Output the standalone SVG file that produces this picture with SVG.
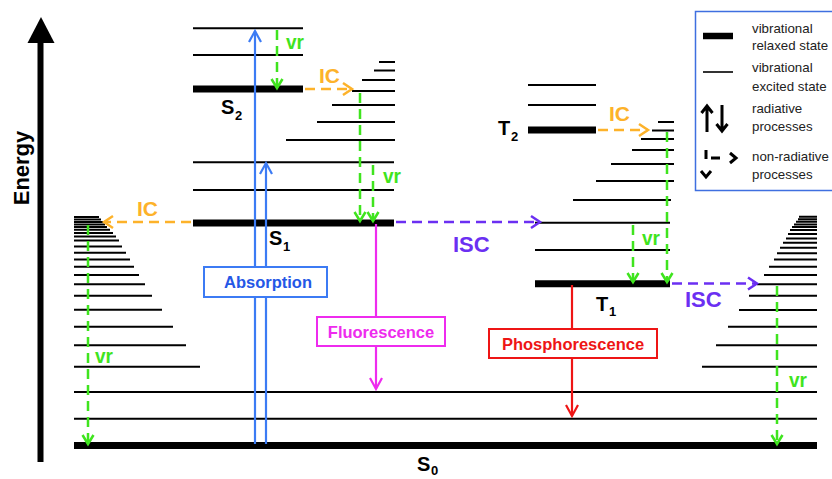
<svg xmlns="http://www.w3.org/2000/svg" width="832" height="479" viewBox="0 0 832 479">
  <style>
    text { font-family: "Liberation Sans", Arial, Helvetica, sans-serif; font-weight: bold; }
    .thin { stroke: #000; stroke-width: 2; fill: none; }
    .thick { stroke: #000; stroke-width: 7; fill: none; }
    .lab { font-size: 20px; fill: #000; }
    .sub { font-size: 13px; fill: #000; }
    .ic { stroke: #FDB22A; stroke-width: 2.5; fill: none; stroke-dasharray: 10 6; }
    .vr { stroke: #3FE41E; stroke-width: 2.5; fill: none; stroke-dasharray: 10 6; }
    .isc { stroke: #6B2FF2; stroke-width: 2.5; fill: none; stroke-dasharray: 10 6; }
    .abs { stroke: #3C7BF4; stroke-width: 2.2; fill: none; }
    .fl { stroke: #EE2BEE; stroke-width: 2.2; fill: none; }
    .ph { stroke: #EE1515; stroke-width: 2.2; fill: none; }
    .t-ic { font-size: 21px; fill: #FDB22A; }
    .t-vr { font-size: 21px; fill: #3FE41E; }
    .t-isc { font-size: 22px; fill: #6B2FF2; }
    .box { fill: #fff; stroke-width: 2; }
    .btxt { font-size: 16.5px; text-anchor: middle; }
    .leg { font-family: "Liberation Sans", Arial, Helvetica, sans-serif; font-weight: normal; font-size: 13.3px; fill: #222; }
  </style>
  <defs>
    <marker id="hIC" markerUnits="userSpaceOnUse" markerWidth="20" markerHeight="20" viewBox="-12 -10 14 20" refX="0" refY="0" orient="auto" overflow="visible">
      <path d="M-9,-6 L0,0 L-9,6" fill="none" stroke="#FDB22A" stroke-width="2.5"/>
    </marker>
    <marker id="hVR" markerUnits="userSpaceOnUse" markerWidth="20" markerHeight="20" viewBox="-12 -10 14 20" refX="0" refY="0" orient="auto" overflow="visible">
      <path d="M-9,-5.5 L0,0 L-9,5.5" fill="none" stroke="#3FE41E" stroke-width="2.5"/>
    </marker>
    <marker id="hISC" markerUnits="userSpaceOnUse" markerWidth="20" markerHeight="20" viewBox="-12 -10 14 20" refX="0" refY="0" orient="auto" overflow="visible">
      <path d="M-9,-6 L0,0 L-9,6" fill="none" stroke="#6B2FF2" stroke-width="2.5"/>
    </marker>
    <marker id="hAbs" markerUnits="userSpaceOnUse" markerWidth="20" markerHeight="20" viewBox="-12 -10 14 20" refX="0" refY="0" orient="auto" overflow="visible">
      <path d="M-11,-6 L0,0 L-11,6" fill="none" stroke="#3C7BF4" stroke-width="2.2"/>
    </marker>
    <marker id="hFl" markerUnits="userSpaceOnUse" markerWidth="20" markerHeight="20" viewBox="-12 -10 14 20" refX="0" refY="0" orient="auto" overflow="visible">
      <path d="M-11,-6 L0,0 L-11,6" fill="none" stroke="#EE2BEE" stroke-width="2.2"/>
    </marker>
    <marker id="hPh" markerUnits="userSpaceOnUse" markerWidth="20" markerHeight="20" viewBox="-12 -10 14 20" refX="0" refY="0" orient="auto" overflow="visible">
      <path d="M-11,-6 L0,0 L-11,6" fill="none" stroke="#EE1515" stroke-width="2.2"/>
    </marker>
  </defs>

  <rect width="832" height="479" fill="#fff"/>

  <!-- energy axis -->
  <g id="energy-axis">
    <line x1="40.5" y1="40" x2="40.5" y2="462" stroke="#000" stroke-width="6"/>
    <polygon points="27.5,43 41,17 54.5,43" fill="#000"/>
    <text transform="translate(29,168) rotate(-90)" text-anchor="middle" font-size="22">Energy</text>
  </g>

  <!-- singlet S2 manifold -->
  <g id="S2">
    <path class="thin" d="M193,28.3H303M193,55H303"/>
    <path class="thick" d="M193,89H303"/>
    <text class="lab" x="221" y="114">S</text><text class="sub" x="235" y="120">2</text>
  </g>

  <!-- vibrational ladder reached from S2 -->
  <g id="S1-upper-ladder">
    <path class="thin" d="M379,62H395M374,70.5H395M362,80H395M352,91H395M332,105H395M317,122H395M286,140H395"/>
  </g>

  <!-- singlet S1 manifold -->
  <g id="S1">
    <path class="thin" d="M193,162.3H394M193,190H394"/>
    <path class="thick" d="M193,223H394"/>
    <text class="lab" x="269" y="245">S</text><text class="sub" x="283" y="251">1</text>
  </g>

  <!-- triplet T2 manifold -->
  <g id="T2">
    <path class="thin" d="M528,85H596M528,105H596"/>
    <path class="thick" d="M528,130H596"/>
    <text class="lab" x="498" y="135">T</text><text class="sub" x="511" y="141">2</text>
  </g>

  <!-- vibrational ladder reached from T2 -->
  <g id="T1-upper-ladder">
    <path class="thin" d="M658,122H674M652,130.5H674M641,139H674M632,150H674M611,164H674M596,181H674M573,200H671"/>
  </g>

  <!-- triplet T1 manifold -->
  <g id="T1">
    <path class="thin" d="M535,222.7H670M535,250H670"/>
    <path class="thick" d="M535,283.7H670"/>
    <text class="lab" x="596" y="311">T</text><text class="sub" x="609" y="316">1</text>
  </g>

  <!-- ground state S0 with both dense vibrational ladders -->
  <g id="S0">
    <path class="thin" d="M74,217H99M74,219.5H101M74,222H103M74,224.5H105M74,227H107M74,229.8H110M74,233H113M74,236.5H116M74,240.6H119M74,246.5H122M74,252.7H126M74,259.6H130M74,266.7H134M74,275H139M74,284.3H145M74,295.7H152M74,309.7H162M74,326.7H173M74,345.3H186M74,366.7H200"/>
    <path class="thin" d="M799,216.8H817M798,219.2H817M796,221.8H817M794,224.4H817M792,227H817M790,230H817M788,234H817M786,238.5H817M783,242.8H817M780,247.7H817M777,253.3H817M774,259.6H817M769,266.7H817M764,275H817M757,284.3H817M749,295.7H817M739,310H817M728,326.7H817M716,345.3H817M702,366.7H817"/>
    <path class="thin" d="M74,392H817M74,418.7H817"/>
    <path class="thick" d="M74,445.5H817"/>
    <text class="lab" x="417" y="471">S</text><text class="sub" x="431" y="475" font-size="12">0</text>
  </g>

  <!-- transitions -->
  <g id="connectors">
    <!-- absorption -->
    <path class="abs" d="M255,444V31" marker-end="url(#hAbs)"/>
    <path class="abs" d="M266,444V163" marker-end="url(#hAbs)"/>
    <!-- fluorescence / phosphorescence -->
    <path class="fl" d="M376,224V389" marker-end="url(#hFl)"/>
    <path class="ph" d="M572,285V416" marker-end="url(#hPh)"/>
    <!-- internal conversion -->
    <path class="ic" d="M305,89H352" marker-end="url(#hIC)"/>
    <path class="ic" d="M191,222H104" marker-end="url(#hIC)"/>
    <path class="ic" d="M598,130H648" marker-end="url(#hIC)"/>
    <!-- intersystem crossing -->
    <path class="isc" d="M396,222H540" marker-end="url(#hISC)"/>
    <path class="isc" d="M672,283.5H757" marker-end="url(#hISC)"/>
    <!-- vibrational relaxation -->
    <path class="vr" d="M277,30V88" marker-end="url(#hVR)"/>
    <path class="vr" d="M360,93V221" marker-end="url(#hVR)"/>
    <path class="vr" d="M373,165V221" marker-end="url(#hVR)"/>
    <path class="vr" d="M667,132V282" marker-end="url(#hVR)"/>
    <path class="vr" d="M633,225V282" marker-end="url(#hVR)"/>
    <path class="vr" d="M88,225V444" marker-end="url(#hVR)"/>
    <path class="vr" d="M777,286V444" marker-end="url(#hVR)"/>
  </g>

  <!-- transition labels -->
  <g id="labels">
    <text class="t-ic" x="319" y="83">IC</text>
    <text class="t-ic" x="137" y="216">IC</text>
    <text class="t-ic" x="609" y="121">IC</text>
    <text class="t-vr" x="286" y="49" textLength="18" lengthAdjust="spacingAndGlyphs">vr</text>
    <text class="t-vr" x="383" y="183" textLength="18" lengthAdjust="spacingAndGlyphs">vr</text>
    <text class="t-vr" x="642" y="245" textLength="18" lengthAdjust="spacingAndGlyphs">vr</text>
    <text class="t-vr" x="95" y="363" textLength="18" lengthAdjust="spacingAndGlyphs">vr</text>
    <text class="t-vr" x="789" y="387" textLength="18" lengthAdjust="spacingAndGlyphs">vr</text>
    <text class="t-isc" x="453" y="252">ISC</text>
    <text class="t-isc" x="685" y="307">ISC</text>
  </g>

  <g id="absorption-box">
    <rect class="box" x="204" y="267" width="123" height="30" stroke="#3C7BF4"/>
    <text class="btxt" x="268" y="288" fill="#2557E6">Absorption</text>
  </g>
  <g id="fluorescence-box">
    <rect class="box" x="317" y="317" width="128" height="29" stroke="#EE2BEE"/>
    <text class="btxt" x="381" y="338" fill="#EE2BEE">Fluorescence</text>
  </g>
  <g id="phosphorescence-box">
    <rect class="box" x="489" y="329" width="168" height="29" stroke="#EE1515"/>
    <text class="btxt" x="573" y="350" fill="#EE1515">Phosphorescence</text>
  </g>

  <!-- key -->
  <g id="legend">
    <rect x="695.5" y="11.5" width="150" height="179" fill="#fff" stroke="#3F6FE0" stroke-width="1.5"/>
    <line x1="703" y1="36" x2="733" y2="36" stroke="#000" stroke-width="6.5"/>
    <text class="leg" x="752" y="33">vibrational</text>
    <text class="leg" x="752" y="50">relaxed state</text>
    <line x1="703" y1="72" x2="733" y2="72" stroke="#000" stroke-width="1.6"/>
    <text class="leg" x="752" y="72">vibrational</text>
    <text class="leg" x="752" y="91">excited state</text>
    <g stroke="#000" stroke-width="3" fill="none">
      <path d="M707,132V107M701.5,113L707,106L712.5,113"/>
      <path d="M722,105V130M716.5,124L722,131L727.5,124"/>
      <path d="M706,150V159M711,158H720M730,153L736,158L730,163M701,171L706,177L711,171"/>
    </g>
    <text class="leg" x="752" y="113">radiative</text>
    <text class="leg" x="752" y="131">processes</text>
    <text class="leg" x="752" y="161">non-radiative</text>
    <text class="leg" x="752" y="179">processes</text>
  </g>
</svg>
